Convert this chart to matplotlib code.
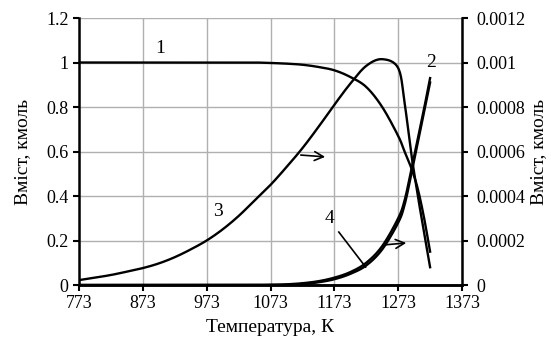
import numpy as np
import matplotlib.pyplot as plt

plt.rcParams['font.family'] = ['Liberation Serif', 'DejaVu Serif']
plt.rcParams['font.size'] = 13

# Temperature, K
temp = [773, 798, 823, 848, 873, 898, 923, 948, 973, 998, 1023, 1048,
        1073, 1098, 1123, 1148, 1173, 1198, 1223, 1248, 1273,
        1283, 1293, 1303, 1313, 1323]

# 1 and 2 - left axis, kmol
c1 = [1.0, 1.0, 1.0, 1.0, 1.0, 1.0, 1.0, 1.0, 1.0, 1.0, 1.0, 1.0,
      0.998, 0.995, 0.99, 0.98, 0.965, 0.935, 0.89, 0.80, 0.67,
      0.60, 0.53, 0.44, 0.31, 0.15]
c2 = [0.0, 0.0, 0.0, 0.0, 0.0, 0.0, 0.0, 0.0, 0.0, 0.0, 0.0, 0.0,
      0.001, 0.003, 0.008, 0.017, 0.033, 0.058, 0.10, 0.175, 0.30,
      0.38, 0.51, 0.65, 0.785, 0.93]

# 3 and 4 - right axis, kmol
c3 = [0.000022, 0.000033, 0.000045, 0.00006, 0.000076, 0.000097, 0.000125,
      0.00016, 0.0002, 0.00025, 0.00031, 0.00038, 0.00045, 0.00053,
      0.000615, 0.00071, 0.00081, 0.000905, 0.000985, 0.001015, 0.000975,
      0.00082, 0.0006, 0.000415, 0.000245, 0.00008]
c4 = [0.0, 0.0, 0.0, 0.0, 0.0, 0.0, 0.0, 0.0, 0.0, 0.0, 0.0, 0.0,
      0.0, 0.001e-3, 0.004e-3, 0.012e-3, 0.026e-3, 0.05e-3, 0.088e-3,
      0.16e-3, 0.28e-3, 0.36e-3, 0.49e-3, 0.63e-3, 0.77e-3, 0.91e-3]


def smooth(x, y, n=16):
    # Catmull-Rom path through the points, like a spreadsheet "smoothed line"
    x = np.asarray(x, float)
    y = np.asarray(y, float)
    px = np.concatenate([[2 * x[0] - x[1]], x, [2 * x[-1] - x[-2]]])
    py = np.concatenate([[2 * y[0] - y[1]], y, [2 * y[-1] - y[-2]]])
    t = np.linspace(0, 1, n, endpoint=False)
    xs, ys = [], []
    for i in range(1, len(px) - 2):
        for p, out in ((px, xs), (py, ys)):
            p0, p1, p2, p3 = p[i - 1], p[i], p[i + 1], p[i + 2]
            out.append(0.5 * (2 * p1 + (-p0 + p2) * t
                              + (2 * p0 - 5 * p1 + 4 * p2 - p3) * t ** 2
                              + (-p0 + 3 * p1 - 3 * p2 + p3) * t ** 3))
    xs.append([x[-1]])
    ys.append([y[-1]])
    return np.concatenate(xs), np.concatenate(ys)


fig, ax = plt.subplots(figsize=(5.51, 3.38), dpi=100)
fig.subplots_adjust(left=0.1434, right=0.8385, top=0.9467, bottom=0.1568)
ax2 = ax.twinx()

ax.plot(*smooth(temp, c1), color='black', lw=1.7)
ax.plot(*smooth(temp, c2), color='black', lw=1.7)
ax2.plot(*smooth(temp, c3), color='black', lw=1.7)
ax2.plot(*smooth(temp, c4), color='black', lw=1.7)

ax.set_xlim(773, 1373)
ax.set_ylim(0, 1.2)
ax2.set_ylim(0, 0.0012)
ax.set_xticks(np.arange(773, 1374, 100))
ax.set_yticks(np.arange(0, 1.21, 0.2))
ax2.set_yticks(np.arange(0, 0.00121, 0.0002))
ax.yaxis.set_major_formatter(plt.FuncFormatter(lambda v, p: '%g' % round(v, 4)))
ax2.yaxis.set_major_formatter(plt.FuncFormatter(lambda v, p: '%g' % round(v, 6)))

ax.grid(True, color='#b0b0b0', lw=1)
ax.set_axisbelow(True)

for a in (ax, ax2):
    for side in a.spines.values():
        side.set_linewidth(1.8)
    a.spines['top'].set_visible(False)
    a.tick_params(width=1.5, length=4, labelsize=13)
ax.spines['right'].set_visible(False)
ax2.spines['left'].set_visible(False)
ax2.tick_params(pad=6)

ax.set_xlabel('Температура, К', fontsize=14, labelpad=5)
ax.set_ylabel('Вміст, кмоль', fontsize=14, labelpad=11)
ax2.set_ylabel('Вміст, кмоль', fontsize=14, labelpad=4)

# curve numbers
ax.text(900, 1.065, '1', ha='center', va='center', fontsize=14)
ax.text(1324, 0.998, '2', ha='center', va='center', fontsize=14)
ax.text(991, 0.33, '3', ha='center', va='center', fontsize=14)
ax.text(1165, 0.30, '4', ha='center', va='center', fontsize=14)

# pointers to the right axis and leader for 4
arrow = dict(arrowstyle='->', lw=1.2, color='black', mutation_scale=16)
ax.annotate('', xy=(1163, 0.575), xytext=(1116, 0.585), arrowprops=arrow)
ax.annotate('', xy=(1290, 0.19), xytext=(1250, 0.18), arrowprops=arrow)
ax.plot([1180, 1222], [0.238, 0.081], color='black', lw=1.2)

fig.savefig('out.png', dpi=100)
